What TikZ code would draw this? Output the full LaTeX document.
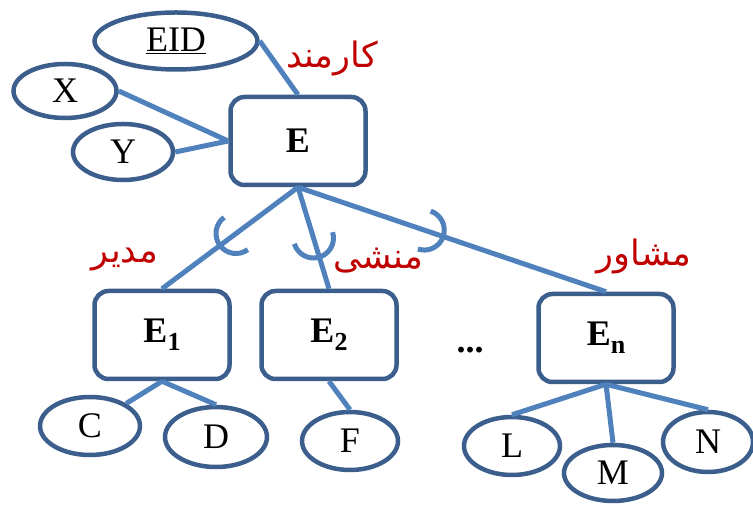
\documentclass[tikz,border=0pt]{standalone}
\usepackage{fontspec}
\setmainfont{Liberation Serif}
\newfontfamily\farsi[Script=Arabic]{DejaVu Sans}
\TeXXeTstate=1
\usetikzlibrary{shapes.geometric,calc}
\definecolor{boxblue}{HTML}{3B5E8C}
\definecolor{linkblue}{HTML}{4F81BD}
\definecolor{rolered}{HTML}{C00000}
\tikzset{
  ent/.style={draw=boxblue, line width=4.5pt, rounded corners=14pt, minimum width=135pt, minimum height=88pt, font=\fontsize{36}{42}\selectfont\bfseries},
  attr/.style={draw=boxblue, line width=4.5pt, ellipse, inner sep=0pt, font=\fontsize{36}{42}\selectfont},
  link/.style={draw=linkblue, line width=5pt},
  cup/.style={draw=linkblue, line width=5pt},
  role/.style={text=rolered, font=\farsi\fontsize{35}{40}\selectfont},
}
\newcommand{\sub}[1]{\raisebox{-8pt}{\fontsize{26}{26}\selectfont #1}}

\begin{document}
\begin{tikzpicture}[x=1pt, y=1pt]
\useasboundingbox (0,0) rectangle (753,505);
% entities
\node[ent] (E) at (298,364) {E};
\node[ent] (E1) at (162,170) {E\sub{1}};
\node[ent] (E2) at (329,170) {E\sub{2}};
\node[ent] (En) at (606,167) {E\sub{n}};
\node[font=\fontsize{36}{42}\selectfont\bfseries] (dots) at (470,155) {...};
% attributes
\node[attr, minimum width=163pt, minimum height=57pt] (eid) at (176,464) {\underline{EID}};
\node[attr, minimum width=103pt, minimum height=54pt] (ax) at (65,414) {X};
\node[attr, minimum width=100pt, minimum height=56pt] (ay) at (123,353) {Y};
\node[attr, minimum width=100pt, minimum height=58pt] (ac) at (90,79) {C};
\node[attr, minimum width=102pt, minimum height=60pt] (ad) at (216,68) {D};
\node[attr, minimum width=96pt, minimum height=58pt] (af) at (350,64) {F};
\node[attr, minimum width=96pt, minimum height=58pt] (al) at (512,59) {L};
\node[attr, minimum width=98pt, minimum height=56pt] (am) at (613,32) {M};
\node[attr, minimum width=90pt, minimum height=60pt] (an) at (708,63) {N};
% roles
\node[role] (rk) at (332,447) {\beginR کارمند\endR};
\node[role] (rm) at (125,245) {\beginR مدیر\endR};
\node[role] (rs) at (378,244) {\beginR منشی\endR};
\node[role] (rc) at (644,249) {\beginR مشاور\endR};
% links
\draw[link] (eid.east) -- (E.north);
\draw[link] (ax.east) -- (E.west);
\draw[link] (ay.east) -- (E.west);
\draw[link] (E.south) -- (E1.north);
\draw[link] (E.south) -- (E2.north);
\draw[link] (E.south) -- (En.north);
\draw[link] (E1.south) -- (ac);
\draw[link] (E1.south) -- (ad.north);
\draw[link] (E2.south) -- (af.north);
\draw[link] (En.south) -- (al.north);
\draw[link] (En.south) -- (am.north);
\draw[link] (En.south) -- (an.north);
% subset marks
\coordinate (k1) at ($(E.south)!0.456!(E1.north)$);
\coordinate (k2) at ($(E.south)!0.5!(E2.north)$);
\coordinate (k3) at ($(E.south)!0.41!(En.north)$);
\draw[cup] ($(k1)+(306.3:20)$) arc[start angle=306.3, delta angle=-180, radius=20];
\draw[cup] ($(k2)+(16.9:20)$) arc[start angle=16.9, delta angle=-180, radius=20];
\draw[cup] ($(k3)+(71.4:20)$) arc[start angle=71.4, delta angle=-180, radius=20];
\end{tikzpicture}
\end{document}
